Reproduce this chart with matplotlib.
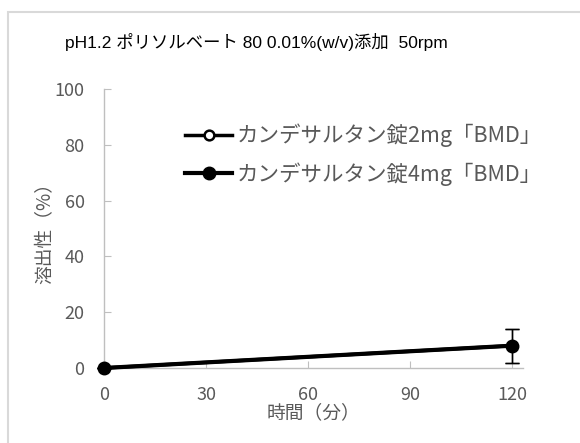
import matplotlib.pyplot as plt
from matplotlib.patches import Rectangle

plt.rcParams['font.family'] = ['Noto Sans CJK JP', 'DejaVu Sans']

# 데이터
times = [0, 120]
dissolution_2mg = [0, 8.0]
dissolution_4mg = [0, 8.0]
sd_2mg = [0, 6.1]
sd_4mg = [0, 6.1]
labels = ['カンデサルタン錠2mg「BMD」', 'カンデサルタン錠4mg「BMD」']
x_ticks = [0, 30, 60, 90, 120]
y_ticks = [0, 20, 40, 60, 80, 100]
title = 'pH1.2 ポリソルベート 80 0.01%(w/v)添加  50rpm'

W, H = 580, 443
fig = plt.figure(figsize=(W / 100, H / 100), dpi=100)

# 바깥 테두리
fig.patches.append(Rectangle((8 / W, -0.05), 1.1, 1 - 12 / H + 0.05, transform=fig.transFigure,
                             fill=False, edgecolor='#d9d9d9', linewidth=1.5))

ax = fig.add_axes([104 / W, 1 - 368 / H, (523 - 104) / W, (368 - 89) / H])

gray = '#595959'
# 오차막대 (범례 제외)
ax.errorbar(times, dissolution_2mg, yerr=sd_2mg, fmt='none', ecolor='black',
            elinewidth=1, capsize=5, capthick=1, clip_on=False)
ax.errorbar(times, dissolution_4mg, yerr=sd_4mg, fmt='none', ecolor='black',
            elinewidth=1, capsize=5, capthick=1, clip_on=False)
# 선 + 마커
ax.plot(times, dissolution_2mg, color='black', lw=2.5, marker='o', markersize=7,
        markerfacecolor='white', markeredgewidth=1.8, label=labels[0], clip_on=False, zorder=3)
ax.plot(times, dissolution_4mg, color='black', lw=3, marker='o', markersize=9,
        markerfacecolor='black', label=labels[1], clip_on=False, zorder=4)

ax.set_xlim(0, 123.2)
ax.set_ylim(0, 100)
ax.set_xticks(x_ticks)
ax.set_yticks(y_ticks)
for s in ['top', 'right']:
    ax.spines[s].set_visible(False)
for s in ['left', 'bottom']:
    ax.spines[s].set_color('#bfbfbf')
    ax.spines[s].set_linewidth(1)
    ax.spines[s].set_zorder(0)
ax.tick_params(axis='both', direction='in', length=5, color='#bfbfbf', labelcolor=gray,
               labelsize=13)
ax.tick_params(axis='y', pad=14)
ax.tick_params(axis='x', pad=13)

ax.set_xlabel('時間（分）', color=gray, fontsize=13.5, labelpad=-1)
ax.set_ylabel('溶出性（%）', color=gray, fontsize=13.5, labelpad=-1)

ax.legend(loc='upper left', bbox_to_anchor=(0.193, 0.875), frameon=False, fontsize=15.5,
          handlelength=2.2, handletextpad=0.2, labelspacing=0.68, borderpad=0,
          borderaxespad=0, labelcolor=gray)

fig.text(65 / W, 1 - 48 / H, title, fontsize=12.5, color='black', ha='left', va='baseline',
         family=['Liberation Sans', 'Noto Sans CJK JP'])

fig.savefig('out.png', dpi=100)
